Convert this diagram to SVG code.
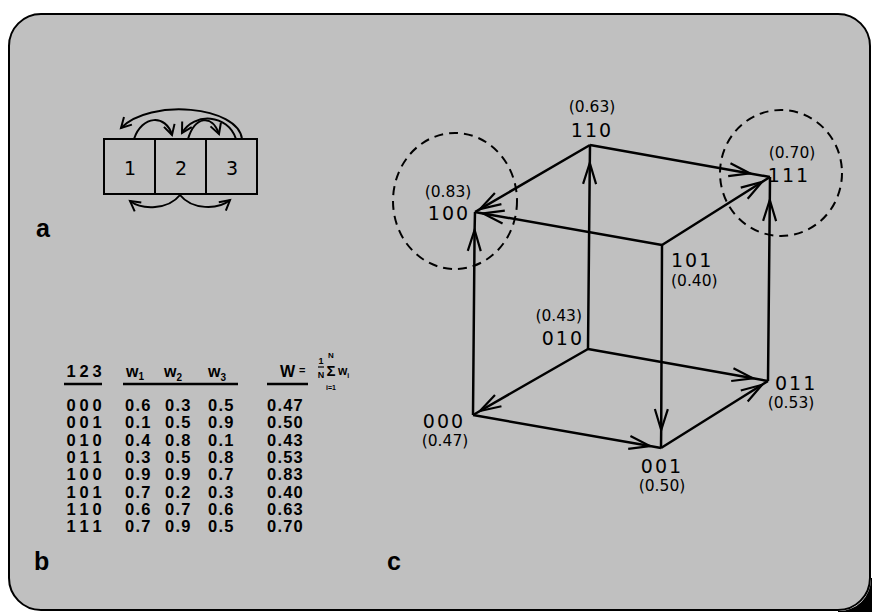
<svg xmlns="http://www.w3.org/2000/svg" width="872" height="612" viewBox="0 0 872 612">
<defs>
<style>
.e{fill:none;stroke:#000;stroke-width:2.5;marker-mid:url(#ah)}
.a{fill:none;stroke:#000;stroke-width:2;marker-end:url(#sh)}
.code{font-family:"DejaVu Sans",sans-serif;font-size:19px;letter-spacing:2px;fill:#000}
.val{font-family:"DejaVu Sans",sans-serif;font-size:15.5px;fill:#000}
.tb{font-family:"Liberation Sans",Arial,sans-serif;font-weight:bold;font-size:16.5px;letter-spacing:1.2px;fill:#000}
.tc{font-family:"Liberation Sans",Arial,sans-serif;font-weight:bold;font-size:16.5px;fill:#000}
.lab{font-family:"Liberation Sans",Arial,sans-serif;font-weight:bold;font-size:25px;fill:#000}
.circ{fill:none;stroke:#000;stroke-width:2;stroke-dasharray:9 6}
</style>
<marker id="ah" markerUnits="userSpaceOnUse" orient="auto" overflow="visible" markerWidth="1" markerHeight="1"><path d="M-21,-6.5 L0,0 L-21,6.5" fill="none" stroke="#000" stroke-width="2.2"/></marker>
<marker id="sh" markerUnits="userSpaceOnUse" orient="auto" overflow="visible" markerWidth="1" markerHeight="1"><path d="M-10,-5.5 L0,0 L-10,5.5" fill="none" stroke="#000" stroke-width="2"/></marker>
</defs>
<rect width="872" height="612" fill="#fff"/>
<rect x="9" y="14" width="861" height="596" rx="32" fill="#c0c0c0" stroke="#000" stroke-width="2"/>
<path d="M838,611 A32,32 0 0 0 871,578 L872,578 L872,612 L838,612 Z" fill="#000"/>

<g id="panel-a">
<g id="boxes" fill="none" stroke="#000" stroke-width="2">
<rect x="104" y="139" width="153" height="55"/>
<line x1="155" y1="139" x2="155" y2="194"/>
<line x1="206" y1="139" x2="206" y2="194"/>
</g>
<g class="code" text-anchor="middle" style="letter-spacing:0">
<text x="130" y="175">1</text>
<text x="181" y="175">2</text>
<text x="232" y="175">3</text>
</g>
<g id="a-arcs">
<path class="a" d="M242,139 C238,106 150,98 121,128"/>
<path class="a" d="M134,139 C142,115 166,114 172,135"/>
<path class="a" d="M236,139 C228,114 194,112 182,133"/>
<path class="a" d="M188,139 C195,116 212,114 219,134"/>
<path class="a" d="M180,195 C168,210 142,210 130,201"/>
<path class="a" d="M180,195 C192,210 218,210 230,200"/>
</g>
<text class="lab" x="36" y="237">a</text>
</g>

<g id="panel-b">
<g stroke="#000" stroke-width="2.5">
<line x1="64" y1="384" x2="102" y2="384"/>
<line x1="123" y1="384" x2="238" y2="384"/>
<line x1="267" y1="384" x2="308" y2="384"/>
</g>
<text class="tc" x="71 84 97" y="377" text-anchor="middle">123</text>
<g class="tc">
<text x="126" y="377" font-size="16">w<tspan font-size="10" dy="3">1</tspan></text>
<text x="164" y="377" font-size="16">w<tspan font-size="10" dy="4">2</tspan></text>
<text x="208" y="377" font-size="16">w<tspan font-size="10" dy="4">3</tspan></text>
<text x="280" y="377" font-size="16">W</text>
<text x="299" y="374" font-size="11">=</text>
<text x="321" y="364" font-size="9" text-anchor="middle">1</text>
<text x="321" y="378" font-size="9" text-anchor="middle">N</text>
<text x="331" y="358" font-size="8" text-anchor="middle">N</text>
<text x="331" y="376" font-size="15" text-anchor="middle">Σ</text>
<text x="331" y="390" font-size="7" text-anchor="middle">i=1</text>
<text x="338" y="375" font-size="12">w<tspan font-size="7" dy="3">i</tspan></text>
</g>
<line x1="318" y1="367" x2="324" y2="367" stroke="#000" stroke-width="1.2"/>
<g class="tc" text-anchor="middle">
<text x="71 84 97" y="411">000</text>
<text x="71 84 97" y="428">001</text>
<text x="71 84 97" y="446">010</text>
<text x="71 84 97" y="463">011</text>
<text x="71 84 97" y="480">100</text>
<text x="71 84 97" y="498">101</text>
<text x="71 84 97" y="515">110</text>
<text x="71 84 97" y="532">111</text>
</g>
<g class="tb">
<text x="125" y="411">0.6</text><text x="165" y="411">0.3</text><text x="208" y="411">0.5</text><text x="267" y="411">0.47</text>
<text x="125" y="428">0.1</text><text x="165" y="428">0.5</text><text x="208" y="428">0.9</text><text x="267" y="428">0.50</text>
<text x="125" y="446">0.4</text><text x="165" y="446">0.8</text><text x="208" y="446">0.1</text><text x="267" y="446">0.43</text>
<text x="125" y="463">0.3</text><text x="165" y="463">0.5</text><text x="208" y="463">0.8</text><text x="267" y="463">0.53</text>
<text x="125" y="480">0.9</text><text x="165" y="480">0.9</text><text x="208" y="480">0.7</text><text x="267" y="480">0.83</text>
<text x="125" y="498">0.7</text><text x="165" y="498">0.2</text><text x="208" y="498">0.3</text><text x="267" y="498">0.40</text>
<text x="125" y="515">0.6</text><text x="165" y="515">0.7</text><text x="208" y="515">0.6</text><text x="267" y="515">0.63</text>
<text x="125" y="532">0.7</text><text x="165" y="532">0.9</text><text x="208" y="532">0.5</text><text x="267" y="532">0.70</text>
</g>
<text class="lab" x="34" y="570">b</text>
</g>

<g id="panel-c">
<ellipse class="circ" cx="455" cy="201" rx="62" ry="68"/>
<ellipse class="circ" cx="781" cy="173" rx="61" ry="63"/>
<g id="connectors">
<path class="e" d="M590,145 L480,209.1 L475,212"/>
<path class="e" d="M662,245 L483,213.4 L475,212"/>
<path class="e" d="M473,415 L474.6,230 L475,212"/>
<path class="e" d="M588,349 L589.8,163 L590,145"/>
<path class="e" d="M590,145 L750,173.4 L770,177"/>
<path class="e" d="M662,245 L762,182 L770,177"/>
<path class="e" d="M768,381 L769.8,200 L770,177"/>
<path class="e" d="M662,245 L661.2,430 L661,448"/>
<path class="e" d="M588,349 L480,411 L473,415"/>
<path class="e" d="M473,415 L650,446.1 L661,448"/>
<path class="e" d="M588,349 L753,378.3 L768,381"/>
<path class="e" d="M661,448 L762,384.8 L768,381"/>
</g>
<g id="n100"><text class="val" x="448" y="197" text-anchor="middle">(0.83)</text><text class="code" x="449" y="220" text-anchor="middle">100</text></g>
<g id="n110"><text class="val" x="592" y="112" text-anchor="middle">(0.63)</text><text class="code" x="592" y="137" text-anchor="middle">110</text></g>
<g id="n111"><text class="val" x="792" y="158" text-anchor="middle">(0.70)</text><text class="code" x="789" y="182" text-anchor="middle">111</text></g>
<g id="n101"><text class="code" x="671" y="267">101</text><text class="val" x="671" y="286">(0.40)</text></g>
<g id="n010"><text class="val" x="582" y="321" text-anchor="end">(0.43)</text><text class="code" x="584" y="345" text-anchor="end">010</text></g>
<g id="n000"><text class="code" x="444" y="428" text-anchor="middle">000</text><text class="val" x="445" y="446" text-anchor="middle">(0.47)</text></g>
<g id="n011"><text class="code" x="775" y="390">011</text><text class="val" x="791" y="408" text-anchor="middle">(0.53)</text></g>
<g id="n001"><text class="code" x="662" y="473" text-anchor="middle">001</text><text class="val" x="662" y="491" text-anchor="middle">(0.50)</text></g>
<text class="lab" x="387" y="570">c</text>
</g>
</svg>
